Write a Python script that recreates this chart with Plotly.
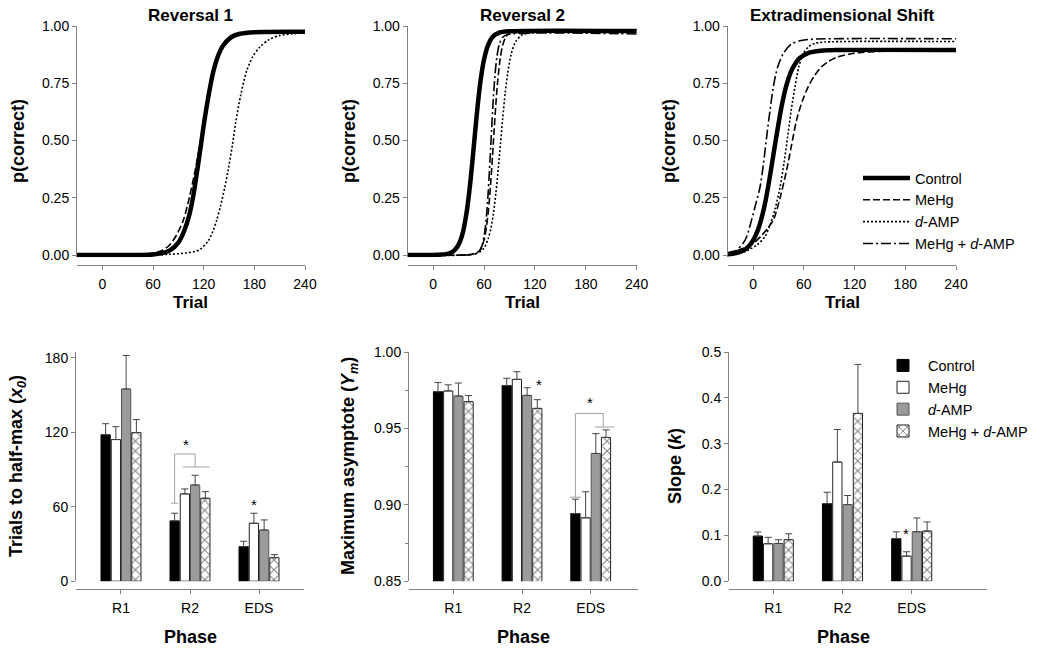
import plotly.graph_objects as go

W, H = 1050, 651
FONT = "Liberation Sans, Arial, sans-serif"

# ---------------- data ----------------
groups = ["Control", "MeHg", "d-AMP", "MeHg + d-AMP"]
group_labels = ["Control", "MeHg", "<i>d</i>-AMP", "MeHg + <i>d</i>-AMP"]
phases = ["R1", "R2", "EDS"]
panel_titles = ["Reversal 1", "Reversal 2", "Extradimensional Shift"]
trial_ticks = [0, 60, 120, 180, 240]
p_ticks = [0.0, 0.25, 0.5, 0.75, 1.0]

# fitted learning curves: (trial, p(correct))
r1_control_t = [-30, 40, 60, 70, 80, 90, 97, 103, 108, 113, 117, 121, 126, 131, 137, 143, 153, 163, 180, 240]
r1_control_p = [0.0, 0.0003, 0.0025, 0.007, 0.02, 0.054, 0.106, 0.175, 0.265, 0.385, 0.487, 0.59, 0.70, 0.795, 0.869, 0.915, 0.952, 0.966, 0.973, 0.975]
r1_mehg_t = [-30, 40, 55, 65, 72, 80, 88, 96, 103, 110, 115, 120.5, 126, 131.5, 137, 143, 153, 165, 185, 240]
r1_mehg_p = [0.0, 0.002, 0.006, 0.013, 0.022, 0.045, 0.088, 0.153, 0.25, 0.371, 0.47, 0.59, 0.70, 0.805, 0.87, 0.912, 0.95, 0.966, 0.972, 0.974]
r1_damp_t = [-30, 60, 80, 100, 110, 116, 125, 130, 135.5, 140, 145, 149, 154, 158, 164, 171, 178, 187, 198, 210, 225, 240]
r1_damp_p = [0.0, 0.0005, 0.003, 0.009, 0.016, 0.025, 0.06, 0.095, 0.153, 0.215, 0.295, 0.371, 0.48, 0.58, 0.70, 0.805, 0.865, 0.91, 0.942, 0.958, 0.966, 0.97]
r1_combo_t = [-30, 40, 60, 70, 80, 90, 97, 103, 108, 113, 117, 121, 126, 131, 137, 143, 153, 165, 185, 240]
r1_combo_p = [0.0, 0.001, 0.004, 0.009, 0.024, 0.06, 0.11, 0.18, 0.275, 0.395, 0.5, 0.6, 0.71, 0.80, 0.87, 0.915, 0.952, 0.965, 0.97, 0.971]

r2_control_t = [-30, 0, 10, 15, 20, 25, 30, 35, 40, 44, 48.3, 52, 56, 60, 65, 70, 78, 90, 240]
r2_control_p = [0.0, 0.0003, 0.0018, 0.004, 0.009, 0.0205, 0.0455, 0.098, 0.199, 0.323, 0.489, 0.634, 0.764, 0.854, 0.919, 0.952, 0.971, 0.977, 0.978]
r2_mehg_t = [-30, 40, 50, 55, 60, 63, 66, 68, 70, 71, 72, 74, 76, 79, 82, 86, 92, 100, 240]
r2_mehg_p = [0.0, 0.0006, 0.0063, 0.0206, 0.065, 0.126, 0.227, 0.321, 0.432, 0.491, 0.55, 0.661, 0.755, 0.856, 0.916, 0.955, 0.976, 0.981, 0.982]
r2_damp_t = [-30, 40, 55, 60, 65, 68, 71, 74, 77, 79.4, 82, 85, 88, 92, 97, 104, 115, 240]
r2_damp_p = [0.0, 0.001, 0.013, 0.031, 0.072, 0.115, 0.18, 0.271, 0.386, 0.486, 0.596, 0.709, 0.796, 0.877, 0.93, 0.959, 0.97, 0.972]
r2_combo_t = [-30, 40, 50, 55, 58, 61, 63, 65, 67, 68, 69, 71, 73, 75, 78, 82, 88, 240]
r2_combo_p = [0.0, 0.0002, 0.0043, 0.019, 0.045, 0.105, 0.176, 0.279, 0.411, 0.483, 0.554, 0.686, 0.789, 0.86, 0.92, 0.951, 0.963, 0.965]

eds_control_t = [-30, -20, -10, -5, 0, 5, 10, 15, 20, 24.5, 29, 34, 40, 46, 55, 65, 80, 100, 240]
eds_control_p = [0.003, 0.0083, 0.023, 0.038, 0.064, 0.102, 0.16, 0.241, 0.345, 0.448, 0.55, 0.654, 0.748, 0.81, 0.86, 0.882, 0.892, 0.895, 0.895]
eds_mehg_t = [-30, -15, 0, 10, 17, 24, 32, 39.7, 45, 51.5, 58, 65.3, 73, 81, 90, 100.7, 115, 128, 160, 240]
eds_mehg_p = [0.01, 0.025, 0.05, 0.085, 0.115, 0.153, 0.25, 0.371, 0.47, 0.59, 0.67, 0.735, 0.785, 0.822, 0.847, 0.866, 0.878, 0.885, 0.89, 0.892]
eds_damp_t = [-30, -15, -5.5, 5, 14, 20, 26, 32, 36.5, 40.9, 45, 49.6, 54, 59.4, 66, 73, 85, 240]
eds_damp_p = [0.002, 0.008, 0.022, 0.045, 0.08, 0.13, 0.2, 0.298, 0.4, 0.517, 0.63, 0.735, 0.82, 0.88, 0.91, 0.924, 0.93, 0.932]
eds_combo_t = [-30, -20, -12, -7.5, -2, 3, 8.3, 12, 16.1, 20, 24, 29, 35.8, 45, 57, 75, 240]
eds_combo_p = [0.005, 0.02, 0.05, 0.08, 0.15, 0.22, 0.298, 0.39, 0.517, 0.63, 0.735, 0.82, 0.88, 0.92, 0.937, 0.943, 0.944]

# bar charts: mean and SEM per phase (R1, R2, EDS)
x0_control = [118.0, 48.6, 27.9]
x0_mehg = [114.2, 70.4, 46.7]
x0_damp = [155.0, 77.6, 41.3]
x0_combo = [119.8, 66.9, 19.0]
x0_control_err = [9.0, 6.2, 4.3]
x0_mehg_err = [10.4, 4.0, 8.1]
x0_damp_err = [27.0, 7.8, 8.1]
x0_combo_err = [10.5, 5.3, 2.4]

ym_control = [0.974, 0.978, 0.8943]
ym_mehg = [0.9745, 0.9821, 0.8915]
ym_damp = [0.9712, 0.9716, 0.9336]
ym_combo = [0.9675, 0.9631, 0.9441]
ym_control_err = [0.006, 0.0048, 0.0094]
ym_mehg_err = [0.004, 0.005, 0.017]
ym_damp_err = [0.0085, 0.005, 0.013]
ym_combo_err = [0.004, 0.0057, 0.0049]

k_control = [0.0984, 0.169, 0.0927]
k_mehg = [0.0817, 0.260, 0.0547]
k_damp = [0.0824, 0.167, 0.108]
k_combo = [0.0905, 0.366, 0.1093]
k_control_err = [0.009, 0.025, 0.015]
k_mehg_err = [0.014, 0.071, 0.0095]
k_damp_err = [0.008, 0.020, 0.030]
k_combo_err = [0.013, 0.107, 0.020]

# ---------------- layout helpers ----------------
def px_x(p):
    return p / W

def px_y(p):
    return 1 - p / H

AX = "#808080"
axis_common = dict(showline=True, linecolor=AX, linewidth=1, ticks="outside",
                   tickcolor=AX, ticklen=4, tickwidth=1, showgrid=False,
                   zeroline=False, tickfont=dict(family=FONT, size=14, color="black"),
                   fixedrange=True)

fig = go.Figure()

line_styles = [
    dict(color="black", width=4.5, dash="solid"),
    dict(color="black", width=1.6, dash="7px,3px"),
    dict(color="black", width=1.6, dash="2px,2px"),
    dict(color="black", width=1.6, dash="10px,3px,2px,3px"),
]
curves = [
    [(r1_control_t, r1_control_p), (r1_mehg_t, r1_mehg_p), (r1_damp_t, r1_damp_p), (r1_combo_t, r1_combo_p)],
    [(r2_control_t, r2_control_p), (r2_mehg_t, r2_mehg_p), (r2_damp_t, r2_damp_p), (r2_combo_t, r2_combo_p)],
    [(eds_control_t, eds_control_p), (eds_mehg_t, eds_mehg_p), (eds_damp_t, eds_damp_p), (eds_combo_t, eds_combo_p)],
]
for pi, panel in enumerate(curves):
    ax = "" if pi == 0 else str(pi + 1)
    for gi in [1, 2, 3, 0]:
        t, p = panel[gi]
        fig.add_trace(go.Scatter(
            x=t, y=p, mode="lines", line=dict(shape="spline", smoothing=0.8, **line_styles[gi]),
            name=group_labels[gi], xaxis="x" + ax, yaxis="y" + ax,
            showlegend=(pi == 2), legend="legend", legendrank=gi + 1,
            hoverinfo="skip"))

bar_sets = [
    ([x0_control, x0_mehg, x0_damp, x0_combo], [x0_control_err, x0_mehg_err, x0_damp_err, x0_combo_err]),
    ([ym_control, ym_mehg, ym_damp, ym_combo], [ym_control_err, ym_mehg_err, ym_damp_err, ym_combo_err]),
    ([k_control, k_mehg, k_damp, k_combo], [k_control_err, k_mehg_err, k_damp_err, k_combo_err]),
]
bar_markers = [
    dict(color="black", line=dict(color="black", width=1)),
    dict(color="white", line=dict(color="#222222", width=1)),
    dict(color="#9b9b9b", line=dict(color="#555555", width=1)),
    dict(color="white", line=dict(color="#222222", width=1),
         pattern=dict(shape="x", fgcolor="#111111", bgcolor="white", size=7, solidity=0.3)),
]
xcat = [0, 1, 2]
for bi, (means, errs) in enumerate(bar_sets):
    n = str(bi + 4)
    for gi in range(4):
        fig.add_trace(go.Bar(
            x=xcat, y=means[gi], name=group_labels[gi], marker=bar_markers[gi],
            error_y=dict(type="data", symmetric=False, array=errs[gi],
                         arrayminus=[0] * len(errs[gi]), color="#444444",
                         thickness=1, width=3.5),
            xaxis="x" + n, yaxis="y" + n, showlegend=(bi == 2),
            legend="legend2", hoverinfo="skip", offsetgroup=str(gi)))

# ---------------- axes ----------------
top_xdom = [(77, 305), (407.7, 636.7), (727.7, 956)]
bot_xdom = [(76, 304), (409, 637.7), (729, 987)]
top_ydom = [px_y(257.3), px_y(26)]
bot_ydom = [px_y(581.2), px_y(352)]
top_xpos = px_y(265)
bot_xpos = px_y(588.5)

layout = dict(width=W, height=H, margin=dict(l=0, r=0, t=0, b=0, autoexpand=False),
              autosize=False,
              plot_bgcolor="white", paper_bgcolor="white",
              font=dict(family=FONT, color="black"),
              barmode="group", bargap=0.406, bargroupgap=0.1)

for i in range(3):
    ax = "" if i == 0 else str(i + 1)
    layout["xaxis" + ax] = dict(axis_common, domain=[px_x(top_xdom[i][0]), px_x(top_xdom[i][1])],
                                range=[-30, 240], tickvals=trial_ticks, anchor="free",
                                position=top_xpos, ticklabelstandoff=2)
    layout["yaxis" + ax] = dict(axis_common, domain=top_ydom, range=[-0.01, 1.0],
                                tickvals=p_ticks, tickformat=".2f", anchor="x" + ax)

bot_ranges_x = [[-0.652, 2.652], [-0.645, 2.684], [-0.64, 3.088]]
bot_y = [
    dict(range=[0, 184.8], tickvals=[0, 60, 120, 180]),
    dict(range=[0.85, 1.0], tickvals=[0.85, 0.90, 0.95, 1.00], tickformat=".2f",
         minor=dict(ticks="outside", tickvals=[0.875, 0.925, 0.975], ticklen=3, tickcolor=AX)),
    dict(range=[0, 0.5], tickvals=[0, 0.1, 0.2, 0.3, 0.4, 0.5], tickformat=".1f"),
]
for i in range(3):
    n = str(i + 4)
    layout["xaxis" + n] = dict(axis_common, domain=[px_x(bot_xdom[i][0]), px_x(bot_xdom[i][1])],
                               range=bot_ranges_x[i], tickvals=xcat, ticktext=phases,
                               anchor="free", position=bot_xpos, ticklabelstandoff=3)
    layout["yaxis" + n] = dict(axis_common, domain=bot_ydom, anchor="x" + n, **bot_y[i])

LEG_FONT = 14.5
layout["legend"] = dict(x=px_x(858), y=px_y(162), xanchor="left", yanchor="top",
                        bgcolor="rgba(0,0,0,0)", itemwidth=47,
                        font=dict(family=FONT, size=LEG_FONT, color="black"),
                        tracegroupgap=0, traceorder="normal")
layout["legend2"] = dict(x=px_x(878), y=px_y(349.5), xanchor="left", yanchor="top",
                         bgcolor="rgba(0,0,0,0)", itemwidth=40,
                         font=dict(family=FONT, size=LEG_FONT, color="black"),
                         tracegroupgap=0, traceorder="normal")

# ---------------- text ----------------
ann = []
def text(x, y, s, size, bold=True, angle=0):
    ann.append(dict(x=px_x(x), y=px_y(y), xref="paper", yref="paper", text=("<b>%s</b>" % s) if bold else s,
                    showarrow=False, font=dict(family=FONT, size=size, color="black"),
                    textangle=angle, xanchor="center", yanchor="middle"))

title_x = [190, 522, 842]
for i in range(3):
    text(title_x[i], 15, panel_titles[i], 17)
    text(title_x[i], 302, "Trial", 17)
    text([190, 523, 843][i], 637, "Phase", 18)
for xx in [18, 349, 669]:
    text(xx, 141, "p(correct)", 18, angle=-90)
text(17, 466, "Trials to half-max (<i>x<sub>0</sub></i>)", 18, angle=-90)
text(349, 466, "Maximum asymptote (<i>Y<sub>m</sub></i>)", 18, angle=-90)
text(675, 466, "Slope (<i>k</i>)", 18, angle=-90)

# significance markers (data coordinates)
offs = [-0.223, -0.074, 0.074, 0.223]
BR = "#a0a0a0"
shapes = []
def seg(xr, yr, x0, y0, x1, y1):
    shapes.append(dict(type="line", xref=xr, yref=yr, x0=x0, y0=y0, x1=x1, y1=y1,
                       line=dict(color=BR, width=1)))

def star(xr, yr, x, y):
    ann.append(dict(x=x, y=y, xref=xr, yref=yr, text="*", showarrow=False,
                    font=dict(family=FONT, size=15, color="black"),
                    xanchor="center", yanchor="middle", yshift=-3))

# x0 panel, R2 bracket
c = 1
seg("x4", "y4", c + offs[0], 62.9, c + offs[0], 102.6)
seg("x4", "y4", c + offs[0] - 0.05, 62.9, c + offs[0] + 0.05, 62.9)
seg("x4", "y4", c + offs[0], 102.6, c + offs[2], 102.6)
seg("x4", "y4", c + offs[2], 102.6, c + offs[2], 92.1)
seg("x4", "y4", c + offs[1] - 0.03, 92.1, c + offs[3] + 0.06, 92.1)
star("x4", "y4", c - 0.062, 112.5)
star("x4", "y4", 2 + offs[1], 64.2)
# Ym panel
star("x5", "y5", 1 + offs[3] + 0.02, 0.9805)
c = 2
seg("x5", "y5", c + offs[0], 0.905, c + offs[0], 0.9598)
seg("x5", "y5", c + offs[0] - 0.08, 0.905, c + offs[0] + 0.08, 0.905)
seg("x5", "y5", c + offs[0], 0.9598, c + 0.183, 0.9598)
seg("x5", "y5", c + 0.183, 0.9598, c + 0.183, 0.9509)
seg("x5", "y5", c + 0.063, 0.9509, c + 0.339, 0.9509)
star("x5", "y5", c - 0.01, 0.9686)
# slope panel
star("x6", "y6", 2 + offs[1] - 0.01, 0.111)

layout["annotations"] = ann
layout["shapes"] = shapes
fig.update_layout(**layout)
fig.write_html("out.html", config={"displayModeBar": False},
               post_script="document.body.style.margin='0';document.body.style.overflow='hidden';")
